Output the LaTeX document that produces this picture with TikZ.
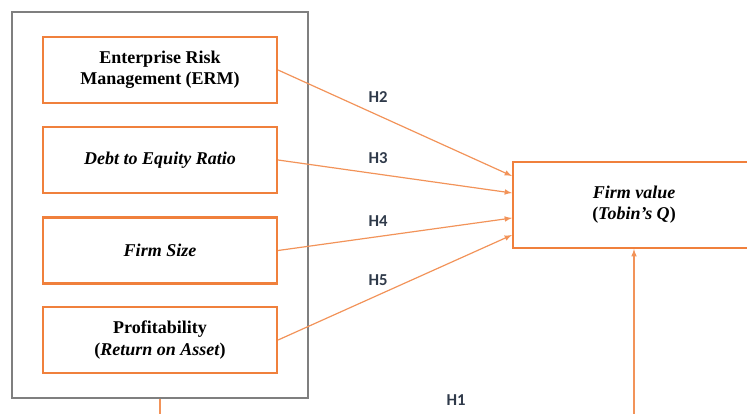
\documentclass[tikz,border=0pt]{standalone}
\usepackage{fontspec}
\setmainfont{Liberation Serif}
\newfontfamily\hfont{Carlito}
\usepackage{xcolor}
\usetikzlibrary{calc}

\definecolor{boxorange}{HTML}{F0803C}
\definecolor{framegray}{HTML}{7F7F7F}
\definecolor{labelnavy}{HTML}{2F3A4A}

\begin{document}
\begin{tikzpicture}[
    x=0.75pt, y=-0.75pt,
    >=latex,
    line width=0.9pt,
    every node/.style={font=\rmfamily\fontsize{13.5}{16}\selectfont},
    varbox/.style={draw=boxorange, line width=1.6pt, minimum width=175.5pt,
      minimum height=49.5pt, align=center, inner sep=0pt},
    link/.style={draw=boxorange!85, ->},
    hlabel/.style={font=\hfont\bfseries\fontsize{12.5}{14}\selectfont, text=labelnavy}
  ]
    \useasboundingbox (0,0) rectangle (747,414);
    \clip (0,0) rectangle (747,414);
    % independent variables
    \node[draw=framegray, line width=1.6pt, minimum width=222pt, minimum height=289.5pt,
      inner sep=0pt] (outer) at (160,205) {};
    \node[varbox] (erm) at (160,70) {\textbf{Enterprise Risk}\\\textbf{Management (ERM)}};
    \node[varbox] (der) at (160,160) {\textbf{\textit{Debt to Equity Ratio}}};
    \node[varbox] (size) at (160,250.5) {\textbf{\textit{Firm Size}}};
    \node[varbox] (prof) at (160,340) {\textbf{Profitability}\\\textbf{(\textit{Return on Asset})}};
    % dependent variable
    \node[varbox, minimum width=181.5pt, minimum height=64.5pt] (fv) at (634,205)
      {\textbf{\textit{Firm value}}\\\textbf{(\textit{Tobin's Q})}};
    \coordinate (t2) at (512,176);
    \coordinate (t3) at (512,193);
    \coordinate (t4) at (512,218);
    \coordinate (t5) at (512,235);
    \draw[link] (erm.east) -- (t2);
    \draw[link] (der.east) -- (t3);
    \draw[link] (size.east) -- (t4);
    \draw[link] (prof.east) -- (t5);
    \node[hlabel] (h2) at (378,97) {H2};
    \node[hlabel] (h3) at (378,158) {H3};
    \node[hlabel] (h4) at (378,221) {H4};
    \node[hlabel] (h5) at (378,280) {H5};
    % direct effect
    \coordinate (b1) at (160,414.3);
    \draw[link] (outer.south) -- (b1) -| (fv.south);
    \node[hlabel] (h1) at (456,400) {H1};
  \end{tikzpicture}
\end{document}
